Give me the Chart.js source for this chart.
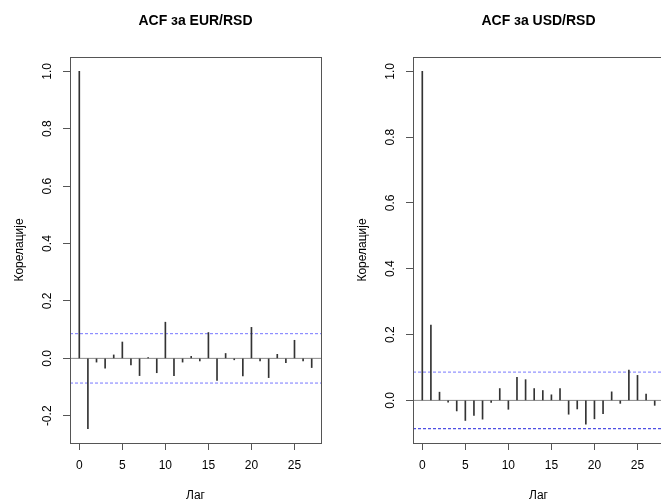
<!DOCTYPE html>
<html>
<head>
<meta charset="utf-8">
<title>ACF</title>
<script src="https://cdn.jsdelivr.net/npm/chart.js@4"></script>
<style>
html, body { margin: 0; padding: 0; background: #fff; overflow: hidden; width: 661px; height: 503px; }
canvas { position: absolute; top: 0; }
#acfEur { left: 0; }
#acfUsd { left: 343px; }
</style>
</head>
<body>
<canvas id="acfEur" width="345" height="503"></canvas>
<canvas id="acfUsd" width="345" height="503"></canvas>
<script>
// Подаци (очитано са слике)
const lags = [0, 1, 2, 3, 4, 5, 6, 7, 8, 9, 10, 11, 12, 13, 14, 15, 16, 17, 18, 19, 20, 21, 22, 23, 24, 25, 26, 27];
const eurAcf = [1.0, -0.245, -0.013, -0.034, 0.012, 0.057, -0.023, -0.060, 0.003, -0.050, 0.126, -0.060, -0.013, 0.007,
                -0.009, 0.090, -0.077, 0.017, -0.005, -0.061, 0.108, -0.009, -0.067, 0.014, -0.015, 0.063, -0.009, -0.032];
const usdAcf = [1.0, 0.229, 0.025, -0.005, -0.032, -0.061, -0.046, -0.057, -0.006, 0.036, -0.027, 0.070, 0.063, 0.036,
                0.030, 0.017, 0.036, -0.042, -0.026, -0.072, -0.056, -0.040, 0.026, -0.009, 0.092, 0.076, 0.019, -0.015];
const confLimit = 0.086;
const titles = ['ACF за EUR/RSD', 'ACF за USD/RSD'];
const xLabel = 'Лаг';
const yLabel = 'Корелације';

Chart.defaults.font.family = '"Liberation Sans", Arial, sans-serif';
Chart.defaults.font.size = 12;
Chart.defaults.color = '#000';

// Оквир, наслов и усправне ознаке на y оси као у R-у
const rStyle = {
    id: 'rStyle',
    afterDraw(chart, args, opts) {
        const ctx = chart.ctx;
        const a = chart.chartArea;
        ctx.save();
        ctx.strokeStyle = '#555';
        ctx.lineWidth = 1;
        ctx.strokeRect(Math.round(a.left) + 0.5, Math.round(a.top) + 0.5,
                       Math.round(a.right - a.left), Math.round(a.bottom - a.top));

        ctx.fillStyle = '#000';
        ctx.font = 'bold 14px "Liberation Sans", Arial, sans-serif';
        ctx.textAlign = 'center';
        ctx.textBaseline = 'middle';
        ctx.fillText(opts.title, (a.left + a.right) / 2, 21);

        const y = chart.scales.y;
        ctx.font = '12px "Liberation Sans", Arial, sans-serif';
        y.ticks.forEach(t => {
            const py = y.getPixelForValue(t.value);
            ctx.save();
            ctx.translate(48, py);
            ctx.rotate(-Math.PI / 2);
            ctx.fillText(t.value.toFixed(1), 0, 0);
            ctx.restore();
        });
        ctx.restore();
    }
};

function hLine(x0, x1, v, color, dash) {
    return {
        type: 'line',
        data: [{x: x0, y: v}, {x: x1, y: v}],
        borderColor: color,
        borderWidth: 1,
        borderDash: dash,
        pointRadius: 0
    };
}

function makeAcfChart(id, title, values, upperColor, lowerColor) {
    const lagMax = lags[lags.length - 1];
    const xMin = -0.04 * lagMax;
    const xMax = lagMax * 1.04;
    const lo = Math.min(-confLimit, ...values);
    const hi = Math.max(confLimit, ...values);
    const pad = (hi - lo) * 0.04;

    return new Chart(document.getElementById(id), {
        type: 'bar',
        data: {
            datasets: [
                {
                    type: 'bar',
                    data: lags.map((l, i) => ({x: l, y: values[i]})),
                    backgroundColor: '#333',
                    barThickness: 1
                },
                hLine(xMin, xMax, 0, '#888', []),
                hLine(xMin, xMax, confLimit, upperColor, [3, 2]),
                hLine(xMin, xMax, -confLimit, lowerColor, [3, 2])
            ]
        },
        options: {
            responsive: false,
            animation: false,
            layout: { padding: { top: 57, right: 24, left: 0, bottom: 0 } },
            plugins: {
                legend: { display: false },
                tooltip: { enabled: false },
                rStyle: { title: title }
            },
            scales: {
                x: {
                    type: 'linear',
                    min: xMin,
                    max: xMax,
                    offset: false,
                    ticks: { stepSize: 5, includeBounds: false, padding: 8, maxRotation: 0, autoSkip: false },
                    grid: { drawOnChartArea: false, tickLength: 7, color: '#555', offset: false },
                    border: { display: false },
                    title: { display: true, text: xLabel, padding: { top: 0, bottom: 0 } },
                    afterFit: s => { s.height = 60; }
                },
                y: {
                    min: lo - pad,
                    max: hi + pad,
                    ticks: { display: false, stepSize: 0.2, includeBounds: false },
                    grid: { drawOnChartArea: false, tickLength: 7, color: '#555' },
                    border: { display: false },
                    title: { display: true, text: yLabel, padding: { top: 12, bottom: 0 } },
                    afterFit: s => { s.width = 70; }
                }
            }
        },
        plugins: [rStyle]
    });
}

makeAcfChart('acfEur', titles[0], eurAcf, '#7777ff', '#7777ff');
makeAcfChart('acfUsd', titles[1], usdAcf, '#7777ff', '#2222dd');
</script>
</body>
</html>
